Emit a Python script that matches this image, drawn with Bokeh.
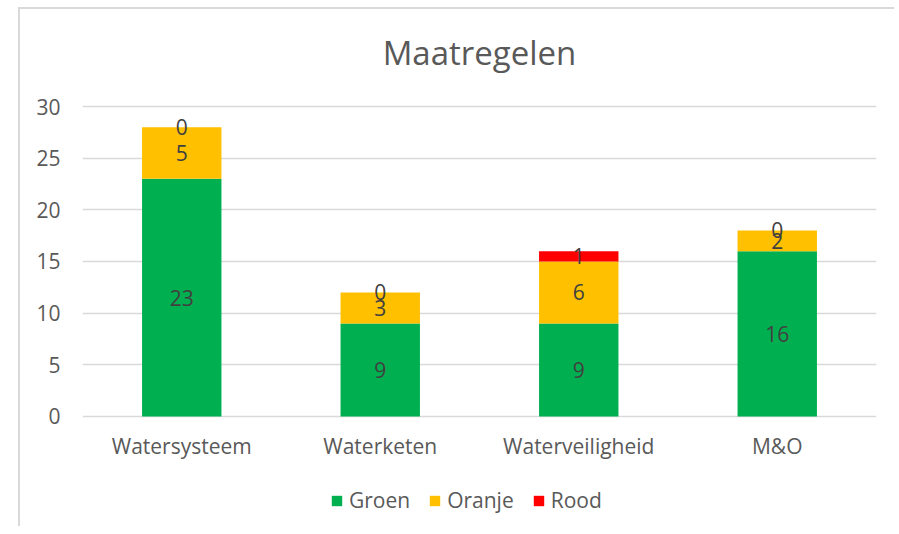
from bokeh.plotting import figure
from bokeh.models import ColumnDataSource, LabelSet, Label, Legend, LegendItem, Range1d
from bokeh.embed import file_html
from bokeh.resources import INLINE
from bokeh.core.properties import value

categories = ["Watersysteem", "Waterketen", "Waterveiligheid", "M&O"]
groen = [23, 9, 9, 16]
oranje = [5, 3, 6, 2]
rood = [0, 0, 1, 0]
series_names = ["Groen", "Oranje", "Rood"]
colors = ["#00B050", "#FFC000", "#FF0000"]
y_ticks = [0, 5, 10, 15, 20, 25, 30]
chart_title = "Maatregelen"

FONT = "Open Sans"
TXT = "#595959"

src = ColumnDataSource(dict(cat=categories, Groen=groen, Oranje=oranje, Rood=rood))

# frame spans the whole chart area; the visible value axis runs 0..30
p = figure(x_range=categories, y_range=Range1d(-10.65, 39.39), title=None,
           frame_width=794, frame_height=517,
           output_backend="svg", toolbar_location=None,
           min_border_left=62, min_border_right=18, min_border_top=0, min_border_bottom=0,
           margin=(7, 0, 0, 18),
           styles={"border-left": "2px solid #d9d9d9", "border-top": "2px solid #d9d9d9"})

renderers = p.vbar_stack(series_names, x="cat", width=0.40, color=colors, source=src,
                         line_color=None)

# data labels at the centre of each segment
bottoms = [0] * len(categories)
for name, vals in zip(series_names, [groen, oranje, rood]):
    mids = [b + v / 2 for b, v in zip(bottoms, vals)]
    ls = ColumnDataSource(dict(cat=categories, y=mids, t=[str(v) for v in vals]))
    p.add_layout(LabelSet(x="cat", y="y", text="t", source=ls, text_align="center",
                          text_baseline="middle", text_color="#404040",
                          text_font=value(FONT), text_font_size="21px"))
    bottoms = [b + v for b, v in zip(bottoms, vals)]

# category labels under the baseline
cat_src = ColumnDataSource(dict(cat=categories, y=[-2.9] * len(categories), t=categories))
p.add_layout(LabelSet(x="cat", y="y", text="t", source=cat_src, text_align="center",
                      text_baseline="middle", text_color=TXT,
                      text_font=value(FONT), text_font_size="21px"))

# chart title
p.add_layout(Label(x=len(categories) / 2, y=35.2, text=chart_title, text_align="center",
                   text_baseline="middle", text_color=TXT, text_font=FONT,
                   text_font_size="33px"))

p.outline_line_color = None
p.background_fill_color = "white"
p.border_fill_color = "white"

p.ygrid.grid_line_color = "#d9d9d9"
p.ygrid.grid_line_width = 1.5
p.xgrid.grid_line_color = None
p.xaxis.visible = False
p.yaxis.ticker = y_ticks
p.yaxis.axis_line_color = None
p.yaxis.major_tick_line_color = None
p.yaxis.minor_tick_line_color = None
p.yaxis.major_label_text_font = FONT
p.yaxis.major_label_text_font_size = "21px"
p.yaxis.major_label_text_color = TXT
p.yaxis.major_label_standoff = 16

legend = Legend(items=[LegendItem(label=n, renderers=[r]) for n, r in zip(series_names, renderers)],
                orientation="horizontal", location=(248, 12),
                label_text_font=FONT, label_text_font_size="21px", label_text_color=TXT,
                glyph_width=13, glyph_height=13, label_standoff=6, spacing=18,
                border_line_color=None, background_fill_alpha=0, margin=0, padding=0)
p.add_layout(legend, "center")

open("out.html", "w").write(file_html(p, INLINE))
